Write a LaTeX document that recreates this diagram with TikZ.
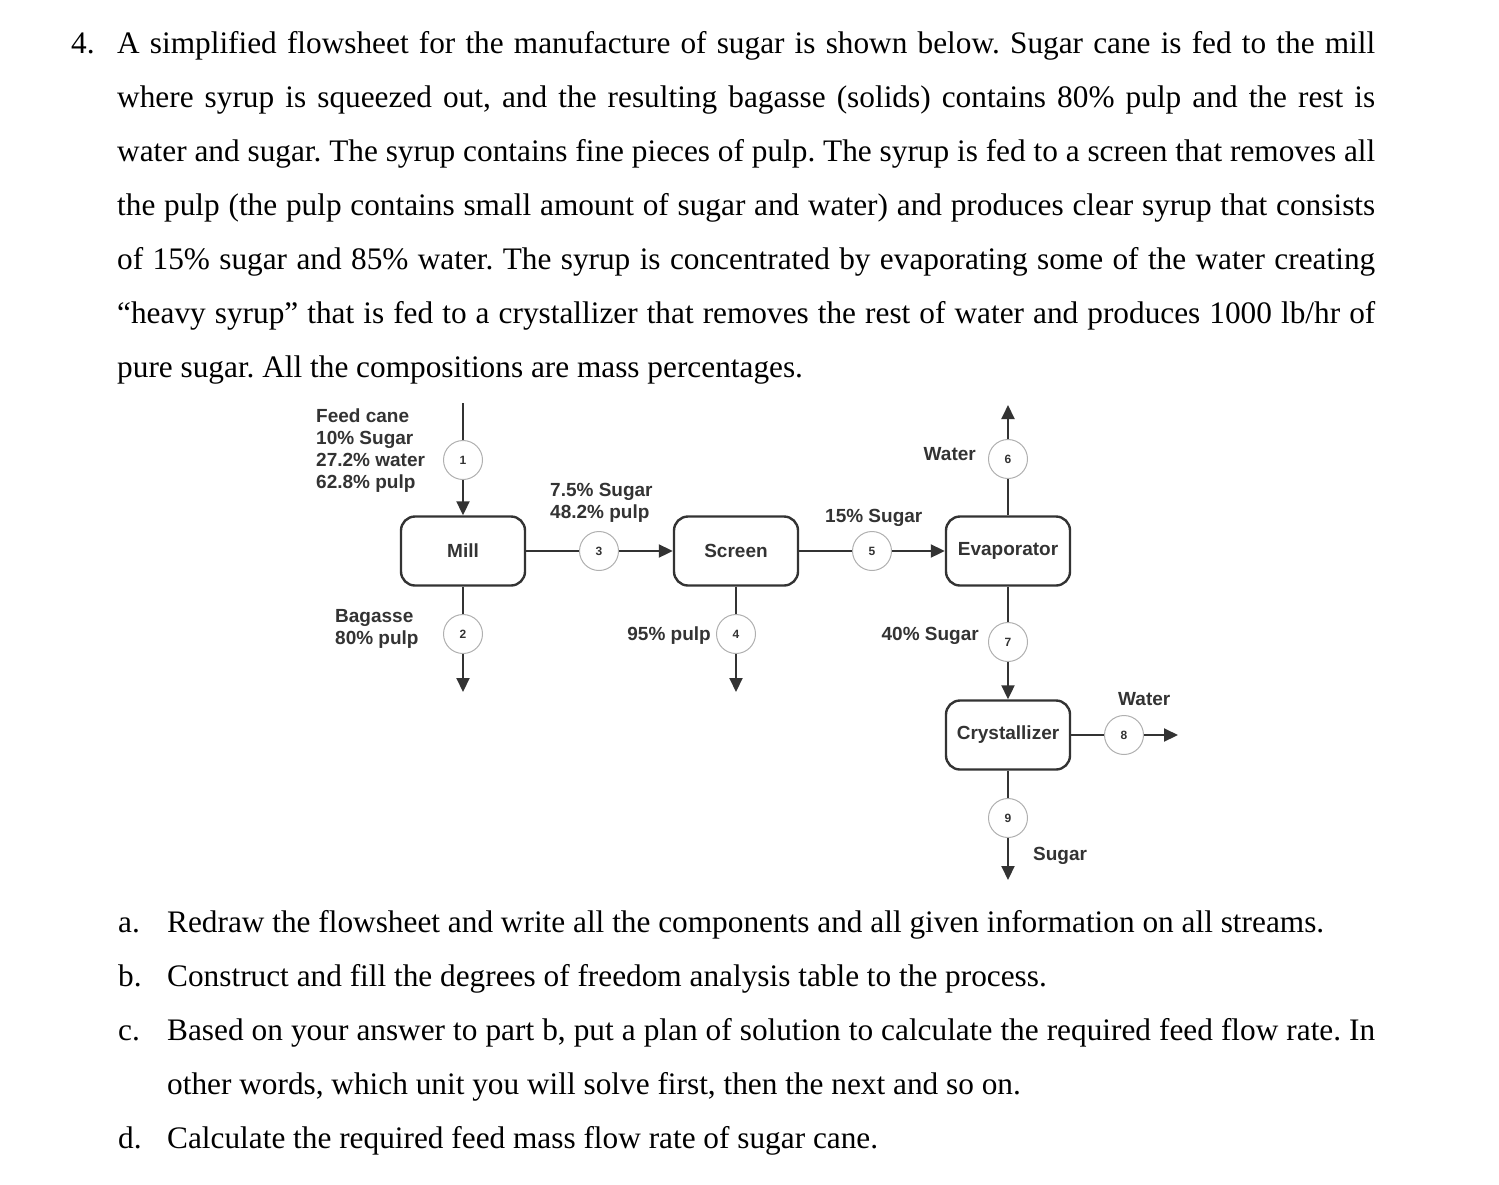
\documentclass[tikz,border=0pt]{standalone}
\usepackage{fontspec}
\setmainfont{Liberation Serif}
\newfontfamily\flowfont{Liberation Sans}
\usetikzlibrary{arrows.meta}
\definecolor{ink}{HTML}{333333}
\definecolor{ringgray}{HTML}{B0B0B0}
\newcommand{\bodysize}{\fontsize{31.3}{38}\selectfont}
\newcommand{\flowsize}{\fontsize{19}{22}\selectfont}
\frenchspacing

\begin{document}
\begin{tikzpicture}[x=1pt,y=-1pt]
\tikzstyle{unit} = [draw=ink,line width=2.4pt,rounded corners=14pt,minimum width=124pt,minimum height=69pt,inner sep=0pt,text=ink,font=\flowfont\bfseries\flowsize]
\tikzstyle{num} = [draw=ringgray,line width=1pt,circle,fill=white,minimum size=39pt,inner sep=0pt,text=ink,font=\flowfont\bfseries\fontsize{12}{13}\selectfont]
\tikzstyle{lbl} = [text=ink,font=\flowfont\bfseries\flowsize,inner sep=0pt,align=left]
\tikzstyle{line} = [draw=ink,line width=2pt]
\tikzstyle{flow} = [line,-{Triangle[length=14pt,width=13pt]}]
\tikzstyle{txt} = [inner sep=0pt,anchor=base west,font=\bodysize]

\useasboundingbox (0,0) rectangle (1499,1184);

% problem statement
\node[txt] (q4) at (71,53) {4.};
\node[txt] (l1) at (117,53) {\makebox[1258pt][s]{A simplified flowsheet for the manufacture of sugar is shown below. Sugar cane is fed to the mill}};
\node[txt] (l2) at (117,107) {\makebox[1258pt][s]{where syrup is squeezed out, and the resulting bagasse (solids) contains 80\% pulp and the rest is}};
\node[txt] (l3) at (117,161) {\makebox[1258pt][s]{water and sugar. The syrup contains fine pieces of pulp. The syrup is fed to a screen that removes all}};
\node[txt] (l4) at (117,215) {\makebox[1258pt][s]{the pulp (the pulp contains small amount of sugar and water) and produces clear syrup that consists}};
\node[txt] (l5) at (117,269) {\makebox[1258pt][s]{of 15\% sugar and 85\% water. The syrup is concentrated by evaporating some of the water creating}};
\node[txt] (l6) at (117,323) {\makebox[1258pt][s]{“heavy syrup” that is fed to a crystallizer that removes the rest of water and produces 1000 lb/hr of}};
\node[txt] (l7) at (117,377) {pure sugar. All the compositions are mass percentages.};

% units
\draw(463,551) node[unit] (mill) {Mill};
\draw(736,551) node[unit] (screen) {Screen};
\draw(1008,551) node[unit] (evap) {Evaporator};
\draw(1008,735) node[unit] (cryst) {Crystallizer};

% stream numbers
\draw(463,460) node[num] (s1) {1};
\draw(463,634) node[num] (s2) {2};
\draw(599,551) node[num] (s3) {3};
\draw(736,634) node[num] (s4) {4};
\draw(872,551) node[num] (s5) {5};
\draw(1008,459) node[num] (s6) {6};
\draw(1008,642) node[num] (s7) {7};
\draw(1124,735) node[num] (s8) {8};
\draw(1008,818) node[num] (s9) {9};

\coordinate (in1) at (463,403);
\coordinate (out2) at (463,692);
\coordinate (out4) at (736,692);
\coordinate (out6) at (1008,405);
\coordinate (out8) at (1178,735);
\coordinate (out9) at (1008,880);

\draw[line] (in1) -- (s1);
\draw[flow] (s1) -- (mill);
\draw[line] (mill) -- (s2);
\draw[flow] (s2) -- (out2);
\draw[line] (mill) -- (s3);
\draw[flow] (s3) -- (screen);
\draw[line] (screen) -- (s4);
\draw[flow] (s4) -- (out4);
\draw[line] (screen) -- (s5);
\draw[flow] (s5) -- (evap);
\draw[line] (evap) -- (s6);
\draw[flow] (s6) -- (out6);
\draw[line] (evap) -- (s7);
\draw[flow] (s7) -- (cryst);
\draw[line] (cryst) -- (s8);
\draw[flow] (s8) -- (out8);
\draw[line] (cryst) -- (s9);
\draw[flow] (s9) -- (out9);

% stream labels
\node[lbl,anchor=base west] (feed) at (316,488) {Feed cane\\10\% Sugar\\27.2\% water\\62.8\% pulp};
\node[lbl,anchor=base west] (syrup) at (550,518) {7.5\% Sugar\\48.2\% pulp};
\node[lbl,anchor=base west] (bagasse) at (335,644) {Bagasse\\80\% pulp};
\node[lbl,anchor=base east] (pulp) at (711,640) {95\% pulp};
\node[lbl,anchor=base west] (clear) at (825,522) {15\% Sugar};
\node[lbl,anchor=base east] (water6) at (976,460) {Water};
\node[lbl,anchor=base east] (heavy) at (979,640) {40\% Sugar};
\node[lbl,anchor=base west] (water8) at (1118,705) {Water};
\node[lbl,anchor=base west] (sugar) at (1033,860) {Sugar};

% questions
\node[txt] (qa) at (118,932) {a.};
\node[txt] (ta) at (167,932) {Redraw the flowsheet and write all the components and all given information on all streams.};
\node[txt] (qb) at (118,986) {b.};
\node[txt] (tb) at (167,986) {Construct and fill the degrees of freedom analysis table to the process.};
\node[txt] (qc) at (118,1040) {c.};
\node[txt] (tc) at (167,1040) {\makebox[1208pt][s]{Based on your answer to part b, put a plan of solution to calculate the required feed flow rate. In}};
\node[txt] (tc2) at (167,1094) {other words, which unit you will solve first, then the next and so on.};
\node[txt] (qd) at (118,1148) {d.};
\node[txt] (td) at (167,1148) {Calculate the required feed mass flow rate of sugar cane.};
\end{tikzpicture}
\end{document}
